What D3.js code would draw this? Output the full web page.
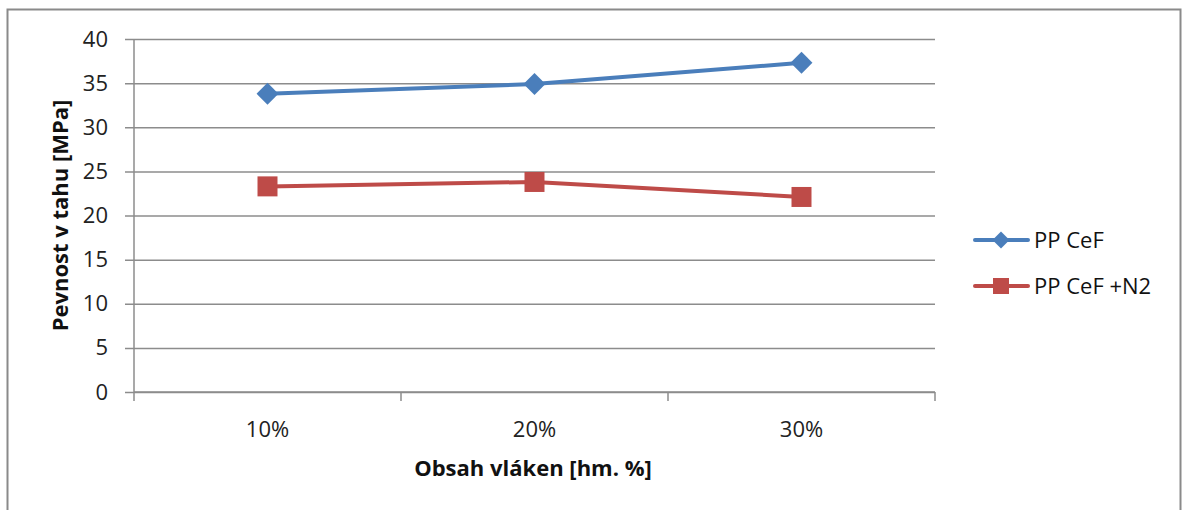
<!DOCTYPE html>
<html>
<head>
<meta charset="utf-8">
<script src="https://cdn.jsdelivr.net/npm/d3@7"></script>
<style>
  html, body { margin: 0; padding: 0; background: #fff; }
  svg { display: block; font-family: "Open Sans", "Noto Sans", sans-serif; }
</style>
</head>
<body>
<svg id="chart" width="1183" height="510"></svg>
<script>
// Tensile strength vs. fibre content
const categories = ["10%", "20%", "30%"];
const seriesNames = ["PP CeF", "PP CeF +N2"];
const ppCeF = [33.8, 34.9, 37.3];
const ppCeFN2 = [23.3, 23.8, 22.1];
const yTicks = [0, 5, 10, 15, 20, 25, 30, 35, 40];
const yTitle = "Pevnost v tahu [MPa]";
const xTitle = "Obsah vláken [hm. %]";

const series = [
  { name: seriesNames[0], values: ppCeF, color: "#4a7ebb", shape: "diamond" },
  { name: seriesNames[1], values: ppCeFN2, color: "#be4b48", shape: "square" }
];

const svg = d3.select("#chart");
const plot = { left: 134, right: 935, top: 39, bottom: 392 };

// Outer frame
svg.append("rect")
  .attr("x", 7.5).attr("y", 9.5)
  .attr("width", 1173).attr("height", 520)
  .attr("fill", "#fff").attr("stroke", "#8a8a8a").attr("stroke-width", 2);

const x = d3.scaleBand().domain(categories).range([plot.left, plot.right]).padding(0);
const y = d3.scaleLinear().domain([0, 40]).range([plot.bottom, plot.top]);
const cx = c => x(c) + x.bandwidth() / 2;

// Horizontal gridlines + y axis
const yAxis = d3.axisLeft(y).tickValues(yTicks).tickSize(-(plot.right - plot.left)).tickPadding(26);
const gy = svg.append("g").attr("transform", `translate(${plot.left},0)`).call(yAxis);
gy.attr("font-family", null).attr("font-size", null);
gy.select(".domain").attr("stroke", "#8c8c8c").attr("stroke-width", 1.5)
  .attr("d", `M0,${plot.top}V${plot.bottom}`);
gy.selectAll(".tick line").attr("stroke", "#8c8c8c").attr("stroke-width", 1.5)
  .attr("x1", -9);
gy.selectAll(".tick text").attr("font-size", 22).attr("fill", "#222");

// X axis with ticks at category boundaries
const gx = svg.append("g").attr("transform", `translate(0,${plot.bottom})`);
gx.append("line").attr("x1", plot.left).attr("x2", plot.right)
  .attr("stroke", "#8c8c8c").attr("stroke-width", 1.5);
const bounds = categories.map(c => x(c)).concat([x(categories[categories.length - 1]) + x.bandwidth()]);
gx.selectAll("line.tk").data(bounds).enter().append("line")
  .attr("class", "tk")
  .attr("x1", d => d).attr("x2", d => d).attr("y1", 0).attr("y2", 9)
  .attr("stroke", "#8c8c8c").attr("stroke-width", 1.5);
gx.selectAll("text").data(categories).enter().append("text")
  .attr("x", d => cx(d))
  .attr("y", 45)
  .attr("text-anchor", "middle")
  .attr("font-size", 22).attr("fill", "#222")
  .text(d => d);

// Axis titles
svg.append("text")
  .attr("x", 533).attr("y", 476)
  .attr("text-anchor", "middle").attr("font-size", 22).attr("font-weight", "bold")
  .attr("fill", "#111").text(xTitle);
svg.append("text")
  .attr("transform", `translate(68,${(plot.top + plot.bottom) / 2}) rotate(-90)`)
  .attr("text-anchor", "middle").attr("font-size", 22).attr("font-weight", "bold")
  .attr("fill", "#111").text(yTitle);

// Marker shapes: diamond is a square turned 45 degrees
function marker(sel, shape, side) {
  sel.attr("d", d3.symbol().type(d3.symbolSquare).size(side * side))
    .attr("transform", function () {
      const t = d3.select(this).attr("transform") || "";
      return shape === "diamond" ? t + " rotate(45)" : t;
    });
}

// Lines and markers
const line = d3.line()
  .x((d, i) => cx(categories[i]))
  .y(d => y(d));

series.forEach(s => {
  svg.append("path").datum(s.values)
    .attr("d", line).attr("fill", "none")
    .attr("stroke", s.color).attr("stroke-width", 4).attr("stroke-linejoin", "round");
  svg.selectAll(null).data(s.values).enter().append("path")
    .attr("transform", (d, i) => `translate(${cx(categories[i])},${y(d)})`)
    .attr("fill", s.color)
    .call(marker, s.shape, s.shape === "square" ? 20 : 15.5);
});

// Legend
const legend = svg.append("g");
series.forEach((s, i) => {
  const ly = 240 + i * 46;
  legend.append("line").attr("x1", 975).attr("x2", 1028).attr("y1", ly).attr("y2", ly)
    .attr("stroke", s.color).attr("stroke-width", 4).attr("stroke-linecap", "round");
  legend.append("path")
    .attr("transform", `translate(1001,${ly})`).attr("fill", s.color)
    .call(marker, s.shape, s.shape === "square" ? 16 : 12);
  legend.append("text").attr("x", 1034).attr("y", ly).attr("dy", "0.36em")
    .attr("font-size", 22).attr("fill", "#111").text(s.name);
});
</script>
</body>
</html>
